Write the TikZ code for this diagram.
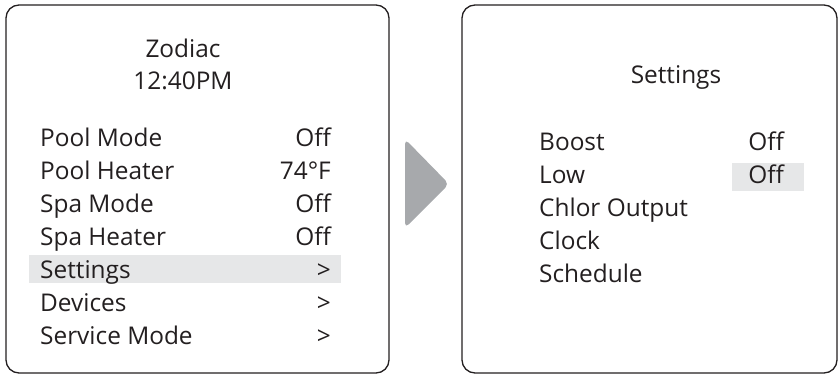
\documentclass[tikz,border=0pt]{standalone}
\usepackage{fontspec}
\setmainfont{Open Sans}
\definecolor{ink}{HTML}{231F20}
\definecolor{hilite}{HTML}{E6E7E8}
\definecolor{pointer}{HTML}{A7A9AC}

\begin{document}
\begin{tikzpicture}[
    x=1pt, y=-1pt, % pixel-like units, y grows downwards
    % Screen frame: adjust line width and corner radius
    panel/.style={draw=ink,line width=1.3pt,rounded corners=13pt},
    % Menu text: adjust font size
    item/.style={font=\fontsize{24.4}{28}\selectfont,text=ink,inner sep=0pt,anchor=base west},
    val/.style={item,anchor=base east},
    head/.style={item,anchor=base},
    % Selection bar
    bar/.style={fill=hilite,draw=none}
]
\useasboundingbox (0,0) rectangle (839,375);

% ==============================
% TUNING KNOBS
% ==============================
\def\xL{40}     % left screen: text column x
\def\xLv{331}   % left screen: value column (right edge)
\def\xR{539}    % right screen: text column x
\def\xRv{784}   % right screen: value column (right edge)
\def\dy{33}     % row spacing

% ==============================
% SCREEN FRAMES
% ==============================
\draw[panel] (6,5) rectangle (389,373);
\draw[panel] (462,5) rectangle (837,373);

% SELECTION BARS (drawn before text)
\fill[bar] (29,255) rectangle (341,283);
\fill[bar] (732,163) rectangle (804,191);

% POINTER between the screens
\fill[pointer,rounded corners=5pt] (405,139) -- (449,184) -- (405,228) -- cycle;

% ==============================
% LEFT SCREEN: main menu
% ==============================
\node[head] (brand) at (183,57) {Zodiac};
\node[head] (clock) at (183,89) {12:40PM};

\node[item] (L0) at (\xL,146+0*\dy) {Pool Mode};
\node[item] (L1) at (\xL,146+1*\dy) {Pool Heater};
\node[item] (L2) at (\xL,146+2*\dy) {Spa Mode};
\node[item] (L3) at (\xL,146+3*\dy) {Spa Heater};
\node[item] (L4) at (\xL,146+4*\dy) {Settings};
\node[item] (L5) at (\xL,146+5*\dy) {Devices};
\node[item] (L6) at (\xL,146+6*\dy) {Service Mode};

\node[val] (Lv0) at (\xLv,146+0*\dy) {Off};
\node[val] (Lv1) at (\xLv,146+1*\dy) {74°F};
\node[val] (Lv2) at (\xLv,146+2*\dy) {Off};
\node[val] (Lv3) at (\xLv,146+3*\dy) {Off};
\node[val] (Lv4) at (\xLv,146+4*\dy) {>};
\node[val] (Lv5) at (\xLv,146+5*\dy) {>};
\node[val] (Lv6) at (\xLv,146+6*\dy) {>};

% ==============================
% RIGHT SCREEN: settings menu
% ==============================
\node[head] (title) at (676,83) {Settings};

\node[item] (R0) at (\xR,150+0*\dy) {Boost};
\node[item] (R1) at (\xR,150+1*\dy) {Low};
\node[item] (R2) at (\xR,150+2*\dy) {Chlor Output};
\node[item] (R3) at (\xR,150+3*\dy) {Clock};
\node[item] (R4) at (\xR,150+4*\dy) {Schedule};

\node[val] (Rv0) at (\xRv,150+0*\dy) {Off};
\node[val] (Rv1) at (\xRv,150+1*\dy) {Off};
\end{tikzpicture}
\end{document}
